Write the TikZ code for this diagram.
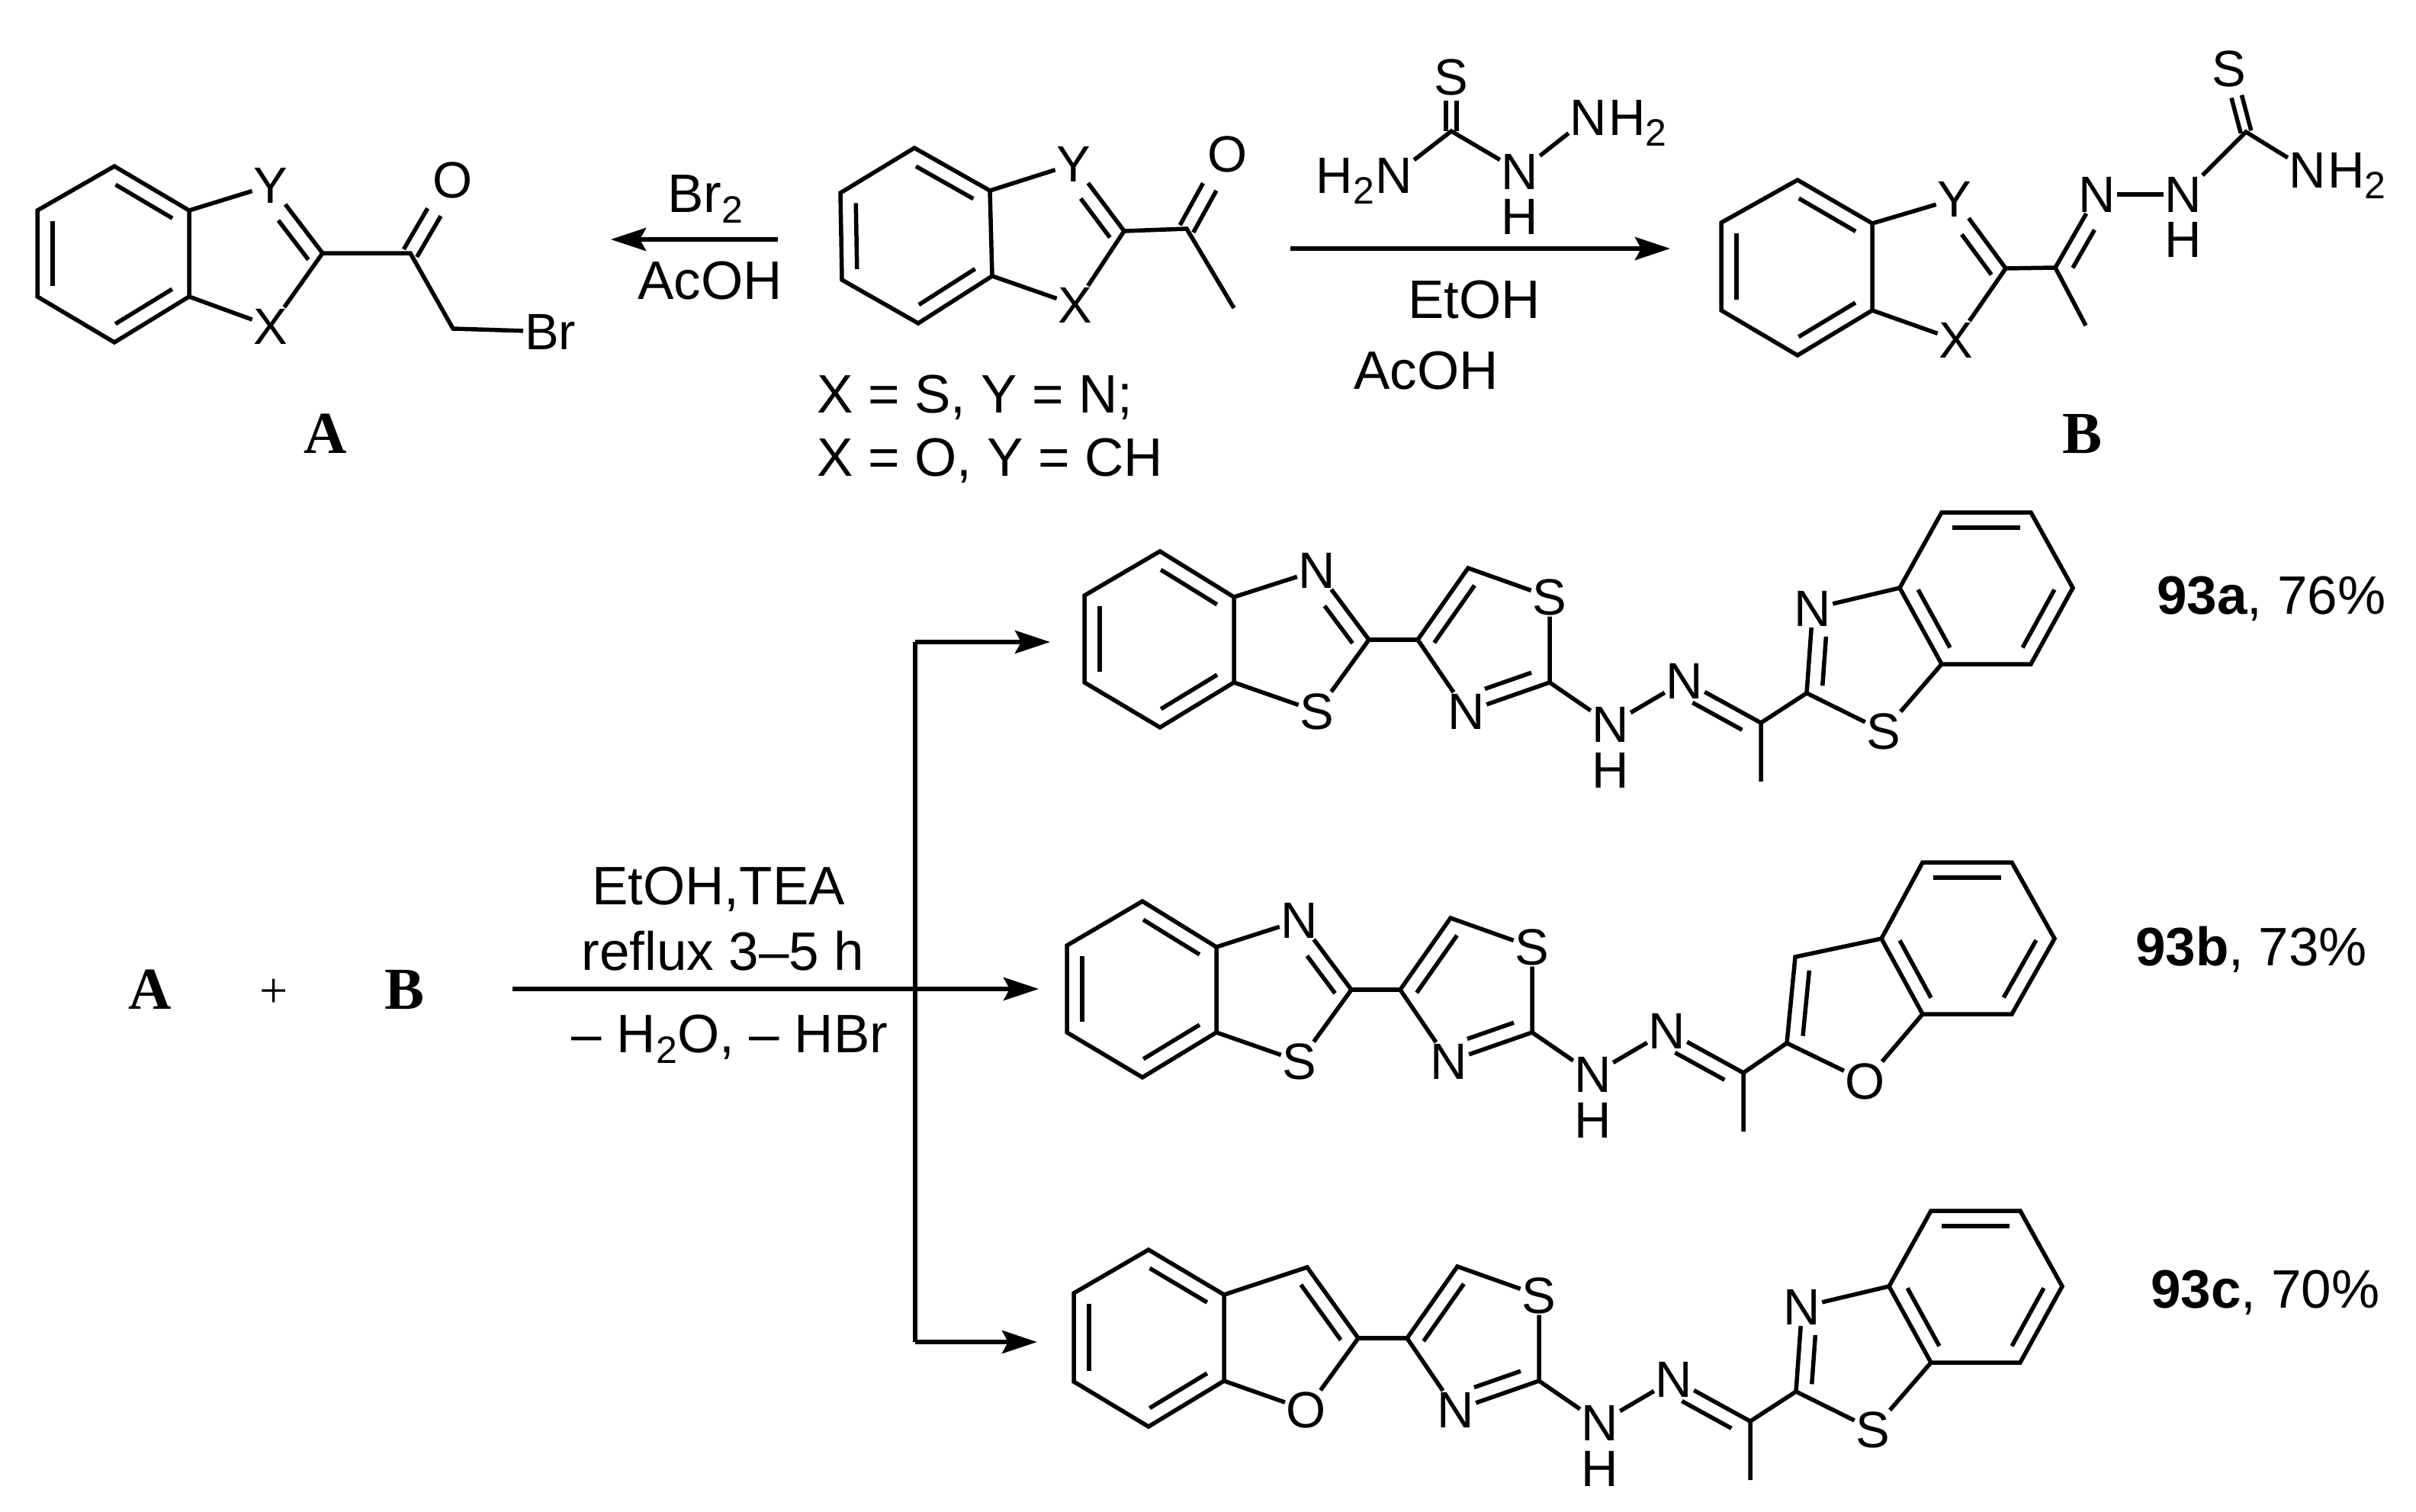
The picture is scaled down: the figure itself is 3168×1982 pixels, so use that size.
\documentclass[tikz,border=0pt]{standalone}
\usepackage{fontspec}
\setmainfont{Liberation Sans}
\newfontfamily\serifb{Liberation Serif}
\usetikzlibrary{calc,arrows.meta}
\newcommand\subs[1]{\raisebox{-14pt}{\fontsize{50}{50}\selectfont #1}}
\tikzset{
  bond/.style={line width=5.5pt,line join=miter,line cap=butt},
  rxn/.style={line width=6pt,-{Stealth[length=46pt,width=30pt,inset=8pt]}},
  atom/.style={font=\fontsize{67}{67}\selectfont,inner sep=2pt,outer sep=0pt},
  atomtail/.style={font=\fontsize{67}{67}\selectfont,inner sep=0pt,outer sep=0pt},
  txt/.style={font=\fontsize{71}{71}\selectfont,inner sep=0pt,anchor=base},
  txtl/.style={font=\fontsize{71}{71}\selectfont,inner sep=0pt,anchor=base west},
  tag/.style={font=\serifb\bfseries\fontsize{78}{78}\selectfont,inner sep=0pt,anchor=base},
}
\newcommand\cn[2]{\coordinate (#1) at (#2);}
\newcommand\atm[3]{\node[atom] (#1) at (#2) {#3};}
\newcommand\dbl[5]{\draw[bond] ($(#1)!#4!(#2)!20pt!#3:(#2)$) -- ($(#1)!#5!(#2)!20pt!#3:(#2)$);}
\newcommand\symb[3]{\draw[bond] ($(#1)!0!(#2)!#3pt!90:(#2)$) -- ($(#1)!.56!(#2)!#3pt!90:(#2)$);
  \draw[bond] ($(#1)!0!(#2)!#3pt!-90:(#2)$) -- ($(#1)!.56!(#2)!#3pt!-90:(#2)$);}
\newcommand\ring[6]{\draw[bond] (#1)--(#2)--(#3)--(#4)--(#5)--(#6)--cycle;
  \dbl{#1}{#2}{-90}{.12}{.88}\dbl{#3}{#4}{-90}{.12}{.88}\dbl{#5}{#6}{-90}{.12}{.88}}
% left benzothiazole of the products
\newcommand\leftBT{
  \cn{t}{1521,723}\cn{ur}{1618,783}\cn{lr}{1618,895}\cn{b}{1521,954}\cn{ll}{1422,895}\cn{ul}{1422,781}
  \ring{t}{ur}{lr}{b}{ll}{ul}
  \atm{nl}{1727,748}{N}\atm{sl}{1727,933}{S}\cn{c2l}{1795,839}
  \draw[bond] (ur)--(nl); \draw[bond] (lr)--(sl); \draw[bond] (nl)--(c2l)--(sl);
  \dbl{c2l}{nl}{90}{.08}{.62}
}
% thiazole and hydrazone chain of the products
\newcommand\chain{
  \cn{c4}{1859,839}\cn{c5}{1925,745}\atm{st}{2032,783}{S}\cn{c2t}{2032,895}\atm{nt}{1923,933}{N}
  \atm{nh}{2112,950}{N}\atm{h}{2112,1010}{H}\atm{nn}{2209,893}{N}\cn{cm}{2309,948}\cn{me}{2309,1025}
  \draw[bond] (c2l)--(c4);
  \draw[bond] (nt)--(c4)--(c5)--(st)--(c2t)--(nt);
  \dbl{c4}{c5}{-90}{.08}{.88}\dbl{c2t}{nt}{-90}{.16}{.72}
  \draw[bond] (c2t)--(nh); \draw[bond] (nh)--(nn); \draw[bond] (nn)--(cm)--(me);
  \dbl{nn}{cm}{-90}{.2}{.85}
}
% right benzothiazole of the products
\newcommand\rightBT{
  \cn{c2r}{2369,909}\atm{nr}{2377,798}{N}\atm{sr}{2470,959}{S}
  \cn{a}{2491,771}\cn{e}{2546,871}\cn{d}{2663,871}\cn{c}{2718,771}\cn{f}{2663,672}\cn{g}{2546,672}
  \ring{g}{f}{c}{d}{e}{a}
  \draw[bond] (cm)--(c2r); \draw[bond] (nr)--(c2r)--(sr);
  \draw[bond] (nr)--(a); \draw[bond] (sr)--(e);
  \dbl{c2r}{nr}{-90}{.1}{.68}
}
\begin{document}
\begin{tikzpicture}[x=1pt,y=-1pt]
\useasboundingbox (0,0) rectangle (3168,1982);
\fill[white] (0,0) rectangle (3168,1982);

% ---- A
\begin{scope}[name prefix=A-]
  \cn{t}{150,218}\cn{ur}{248,276}\cn{lr}{248,389}\cn{b}{150,449}\cn{ll}{49,389}\cn{ul}{49,276}
  \ring{t}{ur}{lr}{b}{ll}{ul}
  \atm{y}{355,243}{Y}\atm{x}{355,428}{X}\cn{c2}{423,332}\cn{co}{538,332}\atm{o}{594,236}{O}\cn{ch}{594,431}
  \node[atom,anchor=west,inner sep=2pt] (br) at (686,435) {Br};
  \draw[bond] (ur)--(y); \draw[bond] (lr)--(x); \draw[bond] (y)--(c2)--(x);
  \dbl{c2}{y}{90}{.04}{.62}
  \draw[bond] (c2)--(co)--(ch)--(br);
  \symb{co}{o}{10}
\end{scope}
\node[tag] (labelA) at (427,594) {A};

% ---- reagent arrow 1
\coordinate (r1a) at (1020,314); \coordinate (r1b) at (801,314);
\draw[rxn] (r1a)--(r1b);
\node[txt] (br2) at (925,278) {Br\subs{2}};
\node[txt] (acoh1) at (931,392) {AcOH};

% ---- starting ketone
\begin{scope}[name prefix=K-]
  \cn{t}{1199,194}\cn{ur}{1298,250}\cn{lr}{1301,362}\cn{b}{1204,424}\cn{ll}{1104,367}\cn{ul}{1102,253}
  \ring{t}{ur}{lr}{b}{ll}{ul}
  \atm{y}{1408,215}{Y}\atm{x}{1410,400}{X}\cn{c2}{1474,303}\cn{co}{1556,300}\atm{o}{1610,202}{O}\cn{me}{1618,404}
  \draw[bond] (ur)--(y); \draw[bond] (lr)--(x); \draw[bond] (y)--(c2)--(x);
  \dbl{c2}{y}{90}{.04}{.62}
  \draw[bond] (c2)--(co)--(me);
  \symb{co}{o}{10}
\end{scope}
\node[txtl] (xs) at (1071,541) {X = S, Y = N;};
\node[txtl] (xo) at (1071,624) {X = O, Y = CH};

% ---- thiosemicarbazide
\begin{scope}[name prefix=T-]
  \atm{s}{1903,101}{S}\cn{c}{1903,172}\atm{n1}{1828,230}{N}\atm{n2}{1993,225}{N}\atm{h}{1993,284}{H}\atm{n3}{2083,154}{N}
  \node[atomtail,anchor=base east] (n1t) at (n1.base west) {H\subs{2}};
  \node[atomtail,anchor=base west] (n3t) at (n3.base east) {H\subs{2}};
  \draw[bond] (n1)--(c)--(n2); \draw[bond] (n2)--(n3);
  \symb{c}{s}{7}
\end{scope}
\coordinate (r2a) at (1692,326); \coordinate (r2b) at (2190,326);
\draw[rxn] (r2a)--(r2b);
\node[txt] (etoh1) at (1933,417) {EtOH};
\node[txt] (acoh2) at (1870,510) {AcOH};

% ---- B
\begin{scope}[name prefix=B-]
  \cn{t}{2357,236}\cn{ur}{2455,293}\cn{lr}{2455,407}\cn{b}{2357,466}\cn{ll}{2257,407}\cn{ul}{2257,292}
  \ring{t}{ur}{lr}{b}{ll}{ul}
  \atm{y}{2563,261}{Y}\atm{x}{2565,446}{X}\cn{c2}{2630,352}\cn{cm}{2695,351}\cn{me}{2735,427}
  \atm{n1}{2750,255}{N}\atm{n2}{2863,255}{N}\atm{h}{2863,314}{H}\cn{cs}{2945,173}\atm{s}{2923,90}{S}\atm{n3}{3026,223}{N}
  \node[atomtail,anchor=base west] (n3t) at (n3.base east) {H\subs{2}};
  \draw[bond] (ur)--(y); \draw[bond] (lr)--(x); \draw[bond] (y)--(c2)--(x);
  \dbl{c2}{y}{90}{.04}{.62}
  \draw[bond] (c2)--(cm)--(me); \draw[bond] (cm)--(n1); \draw[bond] (n1)--(n2);
  \dbl{cm}{n1}{-90}{.1}{.62}
  \draw[bond] (n2)--(cs)--(n3);
  \symb{cs}{s}{7}
\end{scope}
\node[tag] (labelB) at (2730,594) {B};

% ---- lower reaction
\node[tag] (lowA) at (197,1323) {A};
\node[font=\serifb\fontsize{66}{66}\selectfont,inner sep=0pt] (plus) at (359,1303) {+};
\node[tag] (lowB) at (531,1323) {B};
\coordinate (tail) at (672,1297); \coordinate (tipb) at (1362,1297);
\coordinate (vt) at (1200,842); \coordinate (vb) at (1200,1760);
\coordinate (tipa) at (1377,842); \coordinate (tipc) at (1360,1760);
\draw[rxn] (tail)--(tipb);
\draw[line width=5.5pt,line cap=square] (vt)--(vb);
\draw[rxn] (vt)--(tipa);
\draw[rxn] (vb)--(tipc);
\node[txt] (c1) at (942,1186) {EtOH,TEA};
\node[txt] (c2) at (948,1272) {reflux 3–5 h};
\node[txt] (c3) at (957,1380) {– H\subs{2}O, – HBr};

% ---- 93a
\begin{scope}[name prefix=P1-]
  \leftBT\chain\rightBT
\end{scope}
\node[txtl] (y1) at (2828,805) {\textbf{93a}, 76\%};

% ---- 93b
\begin{scope}[name prefix=P2-]
  \begin{scope}[shift={(-23,459)}]\leftBT\chain\end{scope}
  \cn{c2r}{2343,1368}\cn{c3}{2354,1255}\atm{o}{2446,1418}{O}
  \cn{a}{2467,1231}\cn{e}{2521,1330}\cn{d}{2638,1330}\cn{c}{2694,1231}\cn{f}{2638,1131}\cn{g}{2521,1131}
  \ring{g}{f}{c}{d}{e}{a}
  \draw[bond] (cm)--(c2r); \draw[bond] (o)--(c2r)--(c3)--(a); \draw[bond] (o)--(e);
  \dbl{c3}{c2r}{90}{.14}{.9}
\end{scope}
\node[txtl] (y2) at (2800,1266) {\textbf{93b}, 73\%};

% ---- 93c
\begin{scope}[name prefix=P3-]
  \cn{t}{1506,1639}\cn{ur}{1605,1698}\cn{lr}{1605,1811}\cn{b}{1506,1871}\cn{ll}{1408,1812}\cn{ul}{1408,1696}
  \ring{t}{ur}{lr}{b}{ll}{ul}
  \cn{c3}{1714,1662}\cn{c2l}{1781,1755}\atm{o}{1713,1849}{O}
  \draw[bond] (ur)--(c3)--(c2l)--(o); \draw[bond] (o)--(lr);
  \dbl{c3}{c2l}{-90}{.12}{.9}
  \begin{scope}[shift={(-14,916)}]\chain\rightBT\end{scope}
\end{scope}
\node[txtl] (y3) at (2820,1715) {\textbf{93c}, 70\%};
\end{tikzpicture}
\end{document}
